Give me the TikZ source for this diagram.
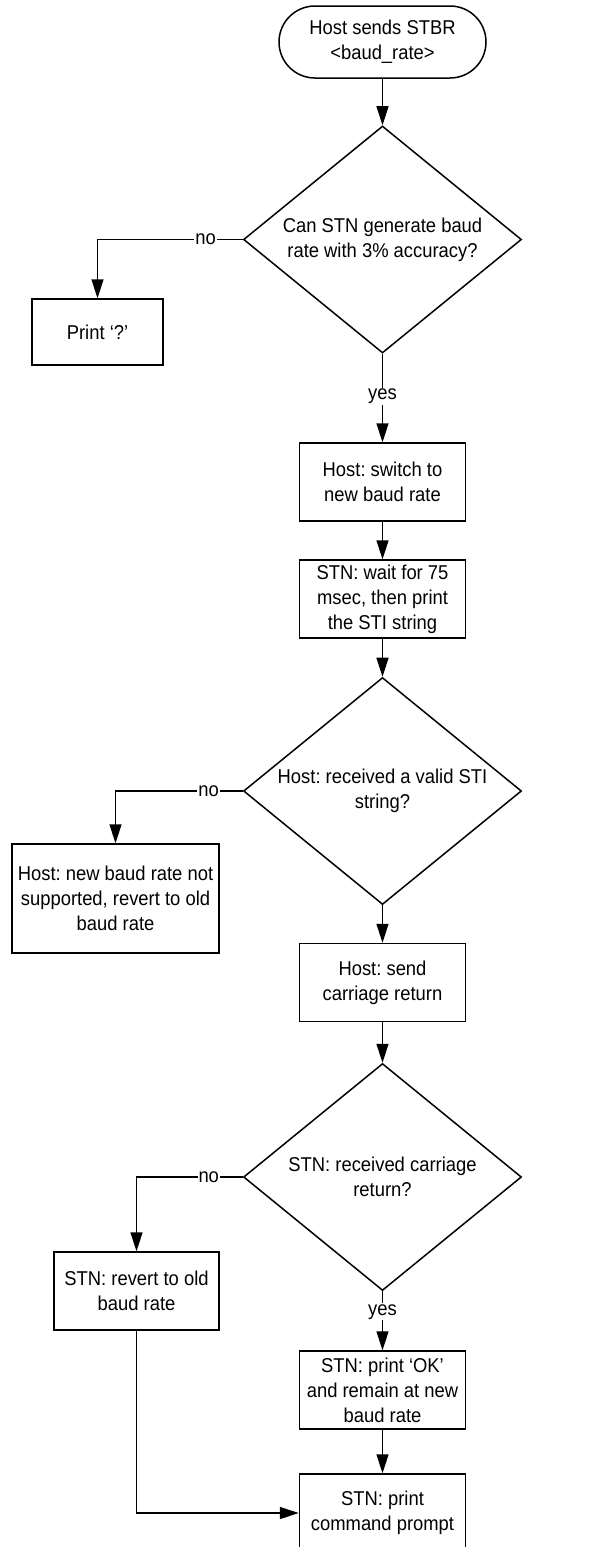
\documentclass[tikz,border=0pt]{standalone}
\usepackage{fontspec}
\setmainfont{Liberation Sans}[FakeStretch=0.92]
\usetikzlibrary{shapes.geometric, arrows.meta}
\frenchspacing
\begin{document}
\begin{tikzpicture}[x=1pt,y=-1pt,
  every node/.style={font=\fontsize{20}{25}\selectfont},
  box/.style={draw, line width=1.5pt, minimum width=166pt, minimum height=78pt, inner sep=0pt, align=center},
  dec/.style={draw, diamond, aspect=1.22, minimum width=278pt, minimum height=227pt, inner sep=0pt, align=center, line width=1.5pt},
  term/.style={draw, line width=1.5pt, rounded corners=36pt, minimum width=207pt, minimum height=72pt, inner sep=0pt, align=center},
  arr/.style={-{Triangle[length=19pt,width=12pt]}, line width=1.5pt},
  lab/.style={fill=white, inner sep=1pt}
]
\useasboundingbox (0,0) rectangle (603,1547);
\node[term] (start) at (382.5,42) {Host sends STBR\\<baud\_rate>};
\node[dec] (d1) at (382.5,239.5) {Can STN generate baud\\rate with 3\% accuracy?};
\node[box, minimum width=131pt, minimum height=66pt] (print) at (97.5,332) {Print ‘?’};
\node[box] (b1) at (382.5,482) {Host: switch to\\new baud rate};
\node[box] (b2) at (382.5,599) {STN: wait for 75\\msec, then print\\the STI string};
\node[dec] (d2) at (382.5,791) {Host: received a valid STI\\string?};
\node[box, minimum width=207pt, minimum height=109pt] (ns) at (115.5,898.5) {Host: new baud rate not\\supported, revert to old\\baud rate};
\node[box] (b3) at (382.5,982.5) {Host: send\\carriage return};
\node[dec] (d3) at (382.5,1177) {STN: received carriage\\return?};
\node[box, minimum width=165pt] (rev) at (136.5,1291) {STN: revert to old\\baud rate};
\node[box] (ok) at (382.5,1390) {STN: print ‘OK’\\and remain at new\\baud rate};
\node[box] (fin) at (382.5,1513) {STN: print\\command prompt};
\draw[arr] (start) -- (d1);
\draw[arr] (d1.west) -| node[lab,pos=0.128]{no} (print.north);
\draw[arr] (d1.south) -- node[lab,pos=0.48]{yes} (b1.north);
\draw[arr] (b1) -- (b2);
\draw[arr] (b2) -- (d2);
\draw[arr] (d2.west) -| node[lab,pos=0.134]{no} (ns.north);
\draw[arr] (d2) -- (b3);
\draw[arr] (b3) -- (d3);
\draw[arr] (d3.west) -| node[lab,pos=0.16]{no} (rev.north);
\draw[arr] (d3.south) -- node[lab,pos=0.35]{yes} (ok.north);
\draw[arr] (ok) -- (fin);
\draw[arr] (rev.south) |- (fin.west);
\end{tikzpicture}
\end{document}
